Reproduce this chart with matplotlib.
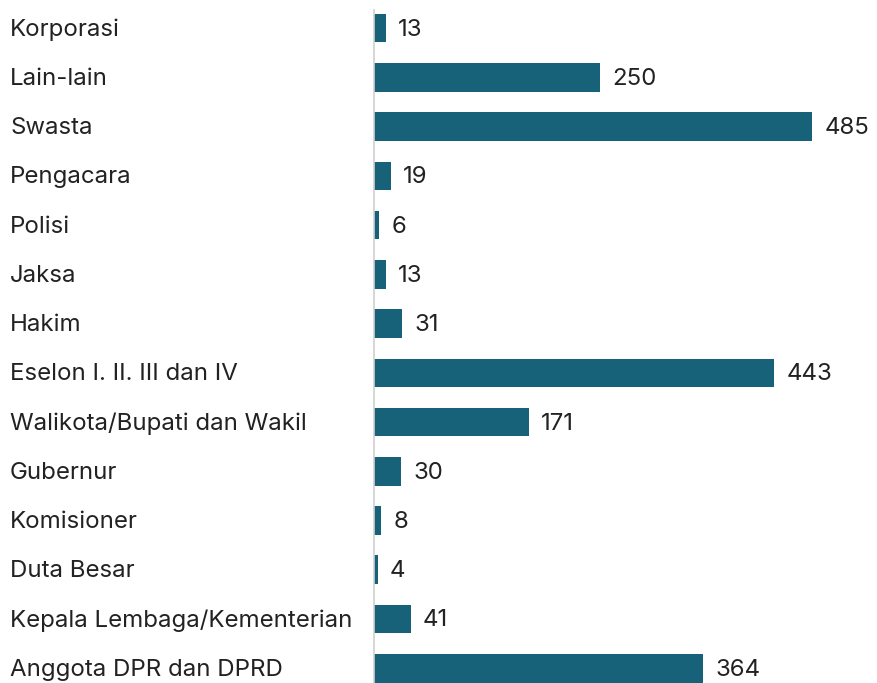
import matplotlib.pyplot as plt

# Data (top to bottom)
categories = [
    "Korporasi", "Lain-lain", "Swasta", "Pengacara", "Polisi", "Jaksa", "Hakim",
    "Eselon I. II. III dan IV", "Walikota/Bupati dan Wakil", "Gubernur",
    "Komisioner", "Duta Besar", "Kepala Lembaga/Kementerian", "Anggota DPR dan DPRD",
]
values = [13, 250, 485, 19, 6, 13, 31, 443, 171, 30, 8, 4, 41, 364]

plt.rcParams['font.family'] = ['Inter', 'DejaVu Sans']

W, H = 877, 683
fig = plt.figure(figsize=(W / 100, H / 100), dpi=100)

# Axes placed in pixel terms: left edge = bar baseline
left, right = 374, 826
top, bottom = 10, 0
ax = fig.add_axes([left / W, bottom / H, (right - left) / W, (H - top - bottom) / H])

ypos = list(range(len(categories)))
ax.barh(ypos, values, height=0.58, color='#176279')

ax.set_xlim(0, 500)
ax.set_ylim(13.30, -0.37)

# value labels
for y, v in zip(ypos, values):
    ax.annotate(str(v), xy=(v, y), xytext=(12, -1.5), textcoords='offset pixels',
                ha='left', va='center', fontsize=17.3, color='#222222',
                annotation_clip=False)

# category labels, left aligned at the figure edge
for y, c in zip(ypos, categories):
    ax.annotate(c, xy=(0, y), xycoords=('figure pixels', 'data'),
                xytext=(10, -1.5), textcoords='offset pixels',
                ha='left', va='center', fontsize=17.3, color='#222222',
                annotation_clip=False)

ax.set_xticks([])
ax.set_yticks([])
for s in ['top', 'right', 'bottom']:
    ax.spines[s].set_visible(False)
ax.spines['left'].set_color('#d0d0d0')
ax.spines['left'].set_linewidth(1.2)

fig.savefig('out.png', dpi=100)
